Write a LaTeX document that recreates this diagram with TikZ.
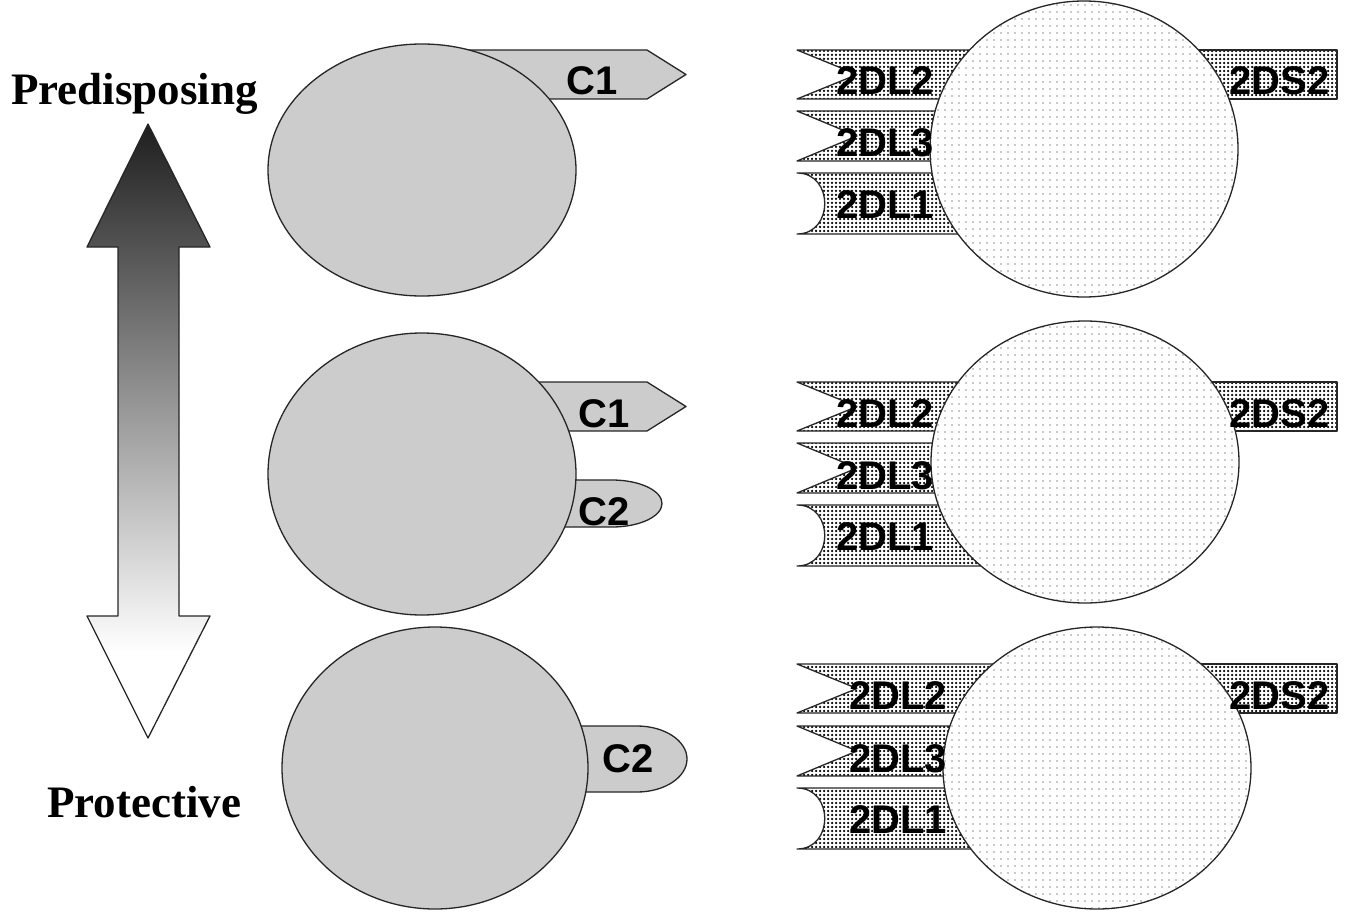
\documentclass[tikz,border=0pt]{standalone}
\usepackage{fontspec}
\setmainfont{Liberation Serif}
\newfontfamily\lblfont{Liberation Sans}
\usetikzlibrary{patterns}

% dense dots for the receptors, sparse dots for the cells
\pgfdeclarepatternformonly{recdots}{\pgfqpoint{-1.5pt}{-1.5pt}}{\pgfqpoint{1.5pt}{1.5pt}}{\pgfqpoint{4pt}{4pt}}%
  {\pgfpathcircle{\pgfpointorigin}{1.25pt}\pgfusepath{fill}}
\pgfdeclarepatternformonly{celldots}{\pgfqpoint{-1pt}{-1pt}}{\pgfqpoint{1pt}{1pt}}{\pgfqpoint{7pt}{7pt}}%
  {\pgfpathcircle{\pgfpointorigin}{0.9pt}\pgfusepath{fill}}
% arrow shading (25bp..75bp spans the arrow): white near the bottom, dark at the tip
\pgfdeclareverticalshading{updown}{100bp}{color(0bp)=(white); color(32bp)=(white); color(75bp)=(black!88); color(100bp)=(black!88)}
\definecolor{ligandgray}{RGB}{204,204,204}

\begin{document}
\begin{tikzpicture}[x=1pt,y=-1pt,line join=round,
  outline/.style={draw=black!85,line width=1.3pt},
  ligand/.style={outline,fill=ligandgray},
  cell/.style={outline,preaction={fill=white},pattern=celldots,pattern color=black!42},
  kir/.style={outline,preaction={fill=white},pattern=recdots,pattern color=black},
  molname/.style={font=\lblfont\bfseries\fontsize{40}{40}\selectfont,inner sep=0pt,anchor=base west},
  sidelabel/.style={font=\bfseries\fontsize{45}{45}\selectfont,inner sep=0pt,anchor=base west}]
\useasboundingbox (0,0) rectangle (1349,915);

% ---- gradient double arrow and its end labels ----
\shade[shading=updown] (148,124) -- (210,247) -- (179,247) -- (179,616) -- (210,616) -- (148,738)
  -- (87,616) -- (118,616) -- (118,247) -- (87,247) -- cycle;
\draw[outline] (148,124) -- (210,247) -- (179,247) -- (179,616) -- (210,616) -- (148,738)
  -- (87,616) -- (118,616) -- (118,247) -- (87,247) -- cycle;
\node[sidelabel] (pred) at (11,105) {Predisposing};
\node[sidelabel] (prot) at (47,817) {Protective};

% ---- HLA-C ligands on the left cells ----
\draw[ligand] (440,50) -- (647,50) -- (686,74.5) -- (647,99) -- (440,99) -- cycle;
\draw[ligand] (500,382) -- (647,382) -- (686,406.5) -- (647,431) -- (500,431) -- cycle;
\draw[ligand] (540,480) -- (612,480) arc[start angle=-90,end angle=90,x radius=50,y radius=23.5] -- (540,527) -- cycle;
\draw[ligand] (560,726) -- (637,726) arc[start angle=-90,end angle=90,x radius=50,y radius=33] -- (560,792) -- cycle;

\draw[ligand] (422,170) ellipse[x radius=154,y radius=126];
\draw[ligand] (422,474) ellipse[x radius=154,y radius=141];
\draw[ligand] (435,768) ellipse[x radius=153,y radius=141];

\node[molname] (c1a) at (566,95) {C1};
\node[molname] (c1b) at (578,427) {C1};
\node[molname] (c2b) at (578,525) {C2};
\node[molname] (c2c) at (602,772) {C2};

% ---- KIR receptors on the right cells ----
\foreach \g/\a/\b/\c/\cx/\cy/\ry/\tx in {top/50/111/173/1084/149/148/836,
    mid/382/443/505/1085/462/141/836, bot/664/726/788/1097/768/141/849}{
  \draw[kir] (797,\a) -- (1060,\a) -- (1060,\a+49) -- (797,\a+49) -- (857,\a+24.5) -- cycle;
  \draw[kir] (797,\b) -- (1060,\b) -- (1060,\b+50) -- (797,\b+50) -- (857,\b+25) -- cycle;
  \draw[kir] (797,\c) -- (1060,\c) -- (1060,\c+61) -- (797,\c+61)
    .. controls (834,\c+61) and (834,\c) .. (797,\c) -- cycle;
  \draw[kir] (1150,\a) rectangle (1337,\a+49);
  \draw[cell] (\cx,\cy) ellipse[x radius=154,y radius=\ry];
  \node[molname] (\g-2DL2) at (\tx,\a+45) {2DL2};
  \node[molname] (\g-2DL3) at (\tx,\b+46) {2DL3};
  \node[molname] (\g-2DL1) at (\tx,\c+45) {2DL1};
  \node[molname] (\g-2DS2) at (1229,\a+45) {2DS2};
}
\end{tikzpicture}
\end{document}
